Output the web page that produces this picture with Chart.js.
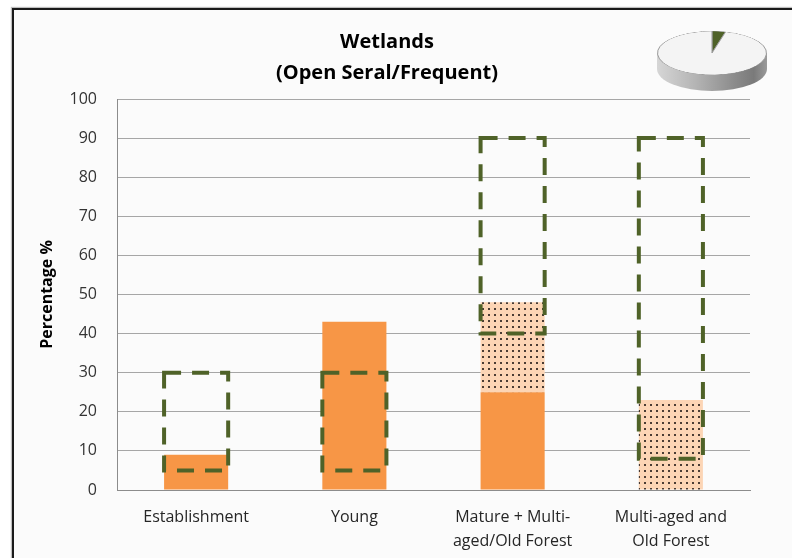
<!DOCTYPE html>
<html>
<head>
<meta charset="utf-8">
<script src="https://cdn.jsdelivr.net/npm/chart.js@4.4.0/dist/chart.umd.min.js"></script>
<style>
    html, body { margin: 0; padding: 0; background: #ffffff; }
    #wrap { position: relative; width: 792px; height: 558px; overflow: hidden; }
    #frame {
        position: absolute; left: 12px; top: 8px; width: 800px; height: 560px;
        background: #fbfbfb; border-left: 2px solid #1a1a1a; border-top: 2px solid #1a1a1a;
        box-shadow: -1px -1px 1px rgba(0,0,0,0.25);
    }
    #mainChart { position: absolute; left: 0; top: 0; }
    .pie-side { position: absolute; background: linear-gradient(to right, #d6d6d6, #b4b4b4 35%, #8c8c8c 70%, #7a7a7a 88%, #9a9a9a); }
    #pieRect { left: 657px; top: 53px; width: 110px; height: 16px; }
    #pieBottom { left: 657px; top: 47px; width: 110px; height: 44px; border-radius: 50%; }
    #pieChart { position: absolute; left: 657px; top: -2px; transform: scaleY(0.4); }
</style>
</head>
<body>
<div id="wrap">
    <div id="frame"></div>
    <canvas id="mainChart" width="792" height="558"></canvas>
    <div id="pieBottom" class="pie-side"></div>
    <div id="pieRect" class="pie-side"></div>
    <canvas id="pieChart" width="110" height="110"></canvas>
</div>
<script>
// Chart data
const categories = ['Establishment', 'Young', ['Mature + Multi-', 'aged/Old Forest'], ['Multi-aged and', 'Old Forest']];
const currentValues = [9, 43, 25, 0];      // solid orange
const dottedValues = [0, 0, 23, 23];       // dotted peach, stacked on orange
const rangeLow = [5, 5, 40, 8];            // dashed box bottom
const rangeHigh = [30, 30, 90, 90];        // dashed box top
const yMax = 100;
const yStep = 10;
const pieValues = [4, 96];

const FONT = "'Open Sans', 'Liberation Sans', sans-serif";

// dotted fill pattern
function makeDots() {
    const c = document.createElement('canvas');
    c.width = 6; c.height = 6;
    const g = c.getContext('2d');
    g.fillStyle = '#fcd5b5';
    g.fillRect(0, 0, 6, 6);
    g.fillStyle = '#4a3c34';
    g.fillRect(2, 2, 2, 2);
    return g.createPattern(c, 'repeat');
}

// dashed outline for the range dataset
const dashedBoxes = {
    id: 'dashedBoxes',
    afterDatasetsDraw(chart) {
        const meta = chart.getDatasetMeta(2);
        const ctx = chart.ctx;
        ctx.save();
        ctx.strokeStyle = '#4f6228';
        ctx.lineWidth = 4;
        ctx.setLineDash([17, 11]);
        meta.data.forEach(bar => {
            const left = bar.x - bar.width / 2;
            const top = Math.min(bar.y, bar.base);
            const h = Math.abs(bar.base - bar.y);
            ctx.strokeRect(left, top, bar.width, h);
        });
        ctx.restore();
    }
};

const ctx = document.getElementById('mainChart').getContext('2d');
new Chart(ctx, {
    type: 'bar',
    data: {
        labels: categories,
        datasets: [
            {
                label: 'Current',
                data: currentValues,
                backgroundColor: '#f79646',
                stack: 'cover'
            },
            {
                label: 'Dotted',
                data: dottedValues,
                backgroundColor: makeDots(),
                stack: 'cover'
            },
            {
                label: 'Range',
                data: rangeLow.map((v, i) => [v, rangeHigh[i]]),
                backgroundColor: 'rgba(0,0,0,0)',
                borderWidth: 0,
                stack: 'range',
                grouped: false
            }
        ]
    },
    options: {
        responsive: false,
        animation: false,
        categoryPercentage: 1,
        barPercentage: 0.405,
        layout: { padding: { left: 24, right: 42, top: 0, bottom: 0 } },
        plugins: {
            legend: { display: false },
            tooltip: { enabled: false },
            title: {
                display: true,
                text: ['Wetlands', '(Open Seral/Frequent)'],
                color: '#000',
                font: { family: FONT, size: 20, weight: 'bold', lineHeight: 1.55 },
                padding: { top: 27, bottom: 10 }
            }
        },
        scales: {
            x: {
                stacked: true,
                grid: { display: false, drawTicks: false },
                border: { display: true, color: '#8c8c8c' },
                ticks: { color: '#262626', padding: 15, font: { family: FONT, size: 16, lineHeight: 1.5 } },
                afterFit: scale => { scale.height = 68; }
            },
            y: {
                stacked: true,
                min: 0,
                max: yMax,
                ticks: { stepSize: yStep, color: '#333333', padding: 20, font: { family: FONT, size: 16 } },
                grid: { color: '#a6a6a6', drawTicks: false },
                border: { display: true, color: '#8c8c8c' },
                title: {
                    display: true,
                    text: 'Percentage %',
                    color: '#000',
                    font: { family: FONT, size: 16, weight: 'bold', lineHeight: 1.2 },
                    padding: { top: 14, bottom: 0 }
                },
                afterFit: scale => { scale.width = 93; }
            }
        }
    },
    plugins: [dashedBoxes]
});

// small 3D-looking pie icon
new Chart(document.getElementById('pieChart').getContext('2d'), {
    type: 'pie',
    data: {
        labels: ['Wetlands', 'Other'],
        datasets: [{
            data: pieValues,
            backgroundColor: ['#4f6228', '#f4f4f4'],
            borderColor: '#9a9a9a',
            borderWidth: 1
        }]
    },
    options: {
        responsive: false,
        animation: false,
        layout: { padding: 0 },
        plugins: { legend: { display: false }, tooltip: { enabled: false } }
    }
});
</script>
</body>
</html>
